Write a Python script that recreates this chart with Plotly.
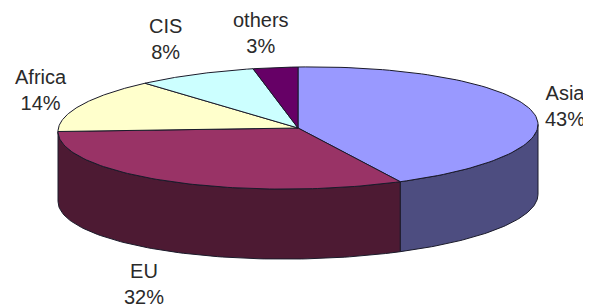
import math
import plotly.graph_objects as go

# ---- data ----
categories = ["Asia", "EU", "Africa", "CIS", "others"]
shares = [43, 32, 14, 8, 3]
top_colors = ["#9999FF", "#993366", "#FFFFCC", "#CCFFFF", "#660066"]
side_colors = ["#4D4D80", "#4D1A33", "#80806A", "#6A8080", "#330033"]

# ---- layout constants (page pixels) ----
W, H = 591, 307
OFF = 8                # default page body margin
CX, CY = 298, 128      # ellipse centre
RA, RB = 240, 61       # semi-axes
DEPTH = 70             # thickness of the pie
TILT = 3.5             # slight tilt (right side higher)
EDGE = "#1a1a2a"
label_pos = [(565, 106), (144, 284), (41, 90), (165, 39), (261, 33)]


def pt(theta_deg, dy=0.0):
    t = math.radians(theta_deg)
    x = CX + RA * math.sin(t)
    y = CY - RB * math.cos(t) - TILT * math.sin(t) + dy
    return x, y


def arc(t1, t2, dy=0.0, n=90):
    pts = [pt(t1 + (t2 - t1) * i / n, dy) for i in range(n + 1)]
    return [p[0] for p in pts], [p[1] for p in pts]


fig = go.Figure()

total = sum(shares)
bounds = []
acc = 0.0
for s in shares:
    a0 = acc / total * 360
    acc += s
    a1 = acc / total * 360
    bounds.append((a0, a1))

# side walls (front half: 90..270 degrees)
for (a0, a1), col in zip(bounds, side_colors):
    s0, s1 = max(a0, 90), min(a1, 270)
    if s1 <= s0:
        continue
    xt, yt = arc(s0, s1)
    xb, yb = arc(s0, s1, DEPTH)
    xs = xt + xb[::-1] + [xt[0]]
    ys = yt + yb[::-1] + [yt[0]]
    fig.add_trace(go.Scatter(x=xs, y=ys, mode="lines", fill="toself",
                             fillcolor=col, line=dict(color=EDGE, width=1),
                             hoverinfo="skip", showlegend=False))

# top faces
for (a0, a1), col, name in zip(bounds, top_colors, categories):
    xa, ya = arc(a0, a1)
    xs = [CX] + xa + [CX]
    ys = [CY] + ya + [CY]
    fig.add_trace(go.Scatter(x=xs, y=ys, mode="lines", fill="toself",
                             fillcolor=col, line=dict(color=EDGE, width=1),
                             name=name, hoverinfo="name", showlegend=False))

for name, s, (lx, ly) in zip(categories, shares, label_pos):
    fig.add_annotation(x=lx, y=ly, text=f"{name}<br>{s}%", showarrow=False,
                       xanchor="center", yanchor="middle", align="center",
                       font=dict(family="Arial, Liberation Sans, sans-serif",
                                 size=20, color="#2a2a2a"))

fig.update_layout(
    width=W - OFF, height=H - OFF, margin=dict(l=0, r=0, t=0, b=0),
    paper_bgcolor="white", plot_bgcolor="white",
    xaxis=dict(range=[OFF, W], visible=False, fixedrange=True),
    yaxis=dict(range=[H, OFF], visible=False, fixedrange=True),
)

fig.write_html("out.html")
